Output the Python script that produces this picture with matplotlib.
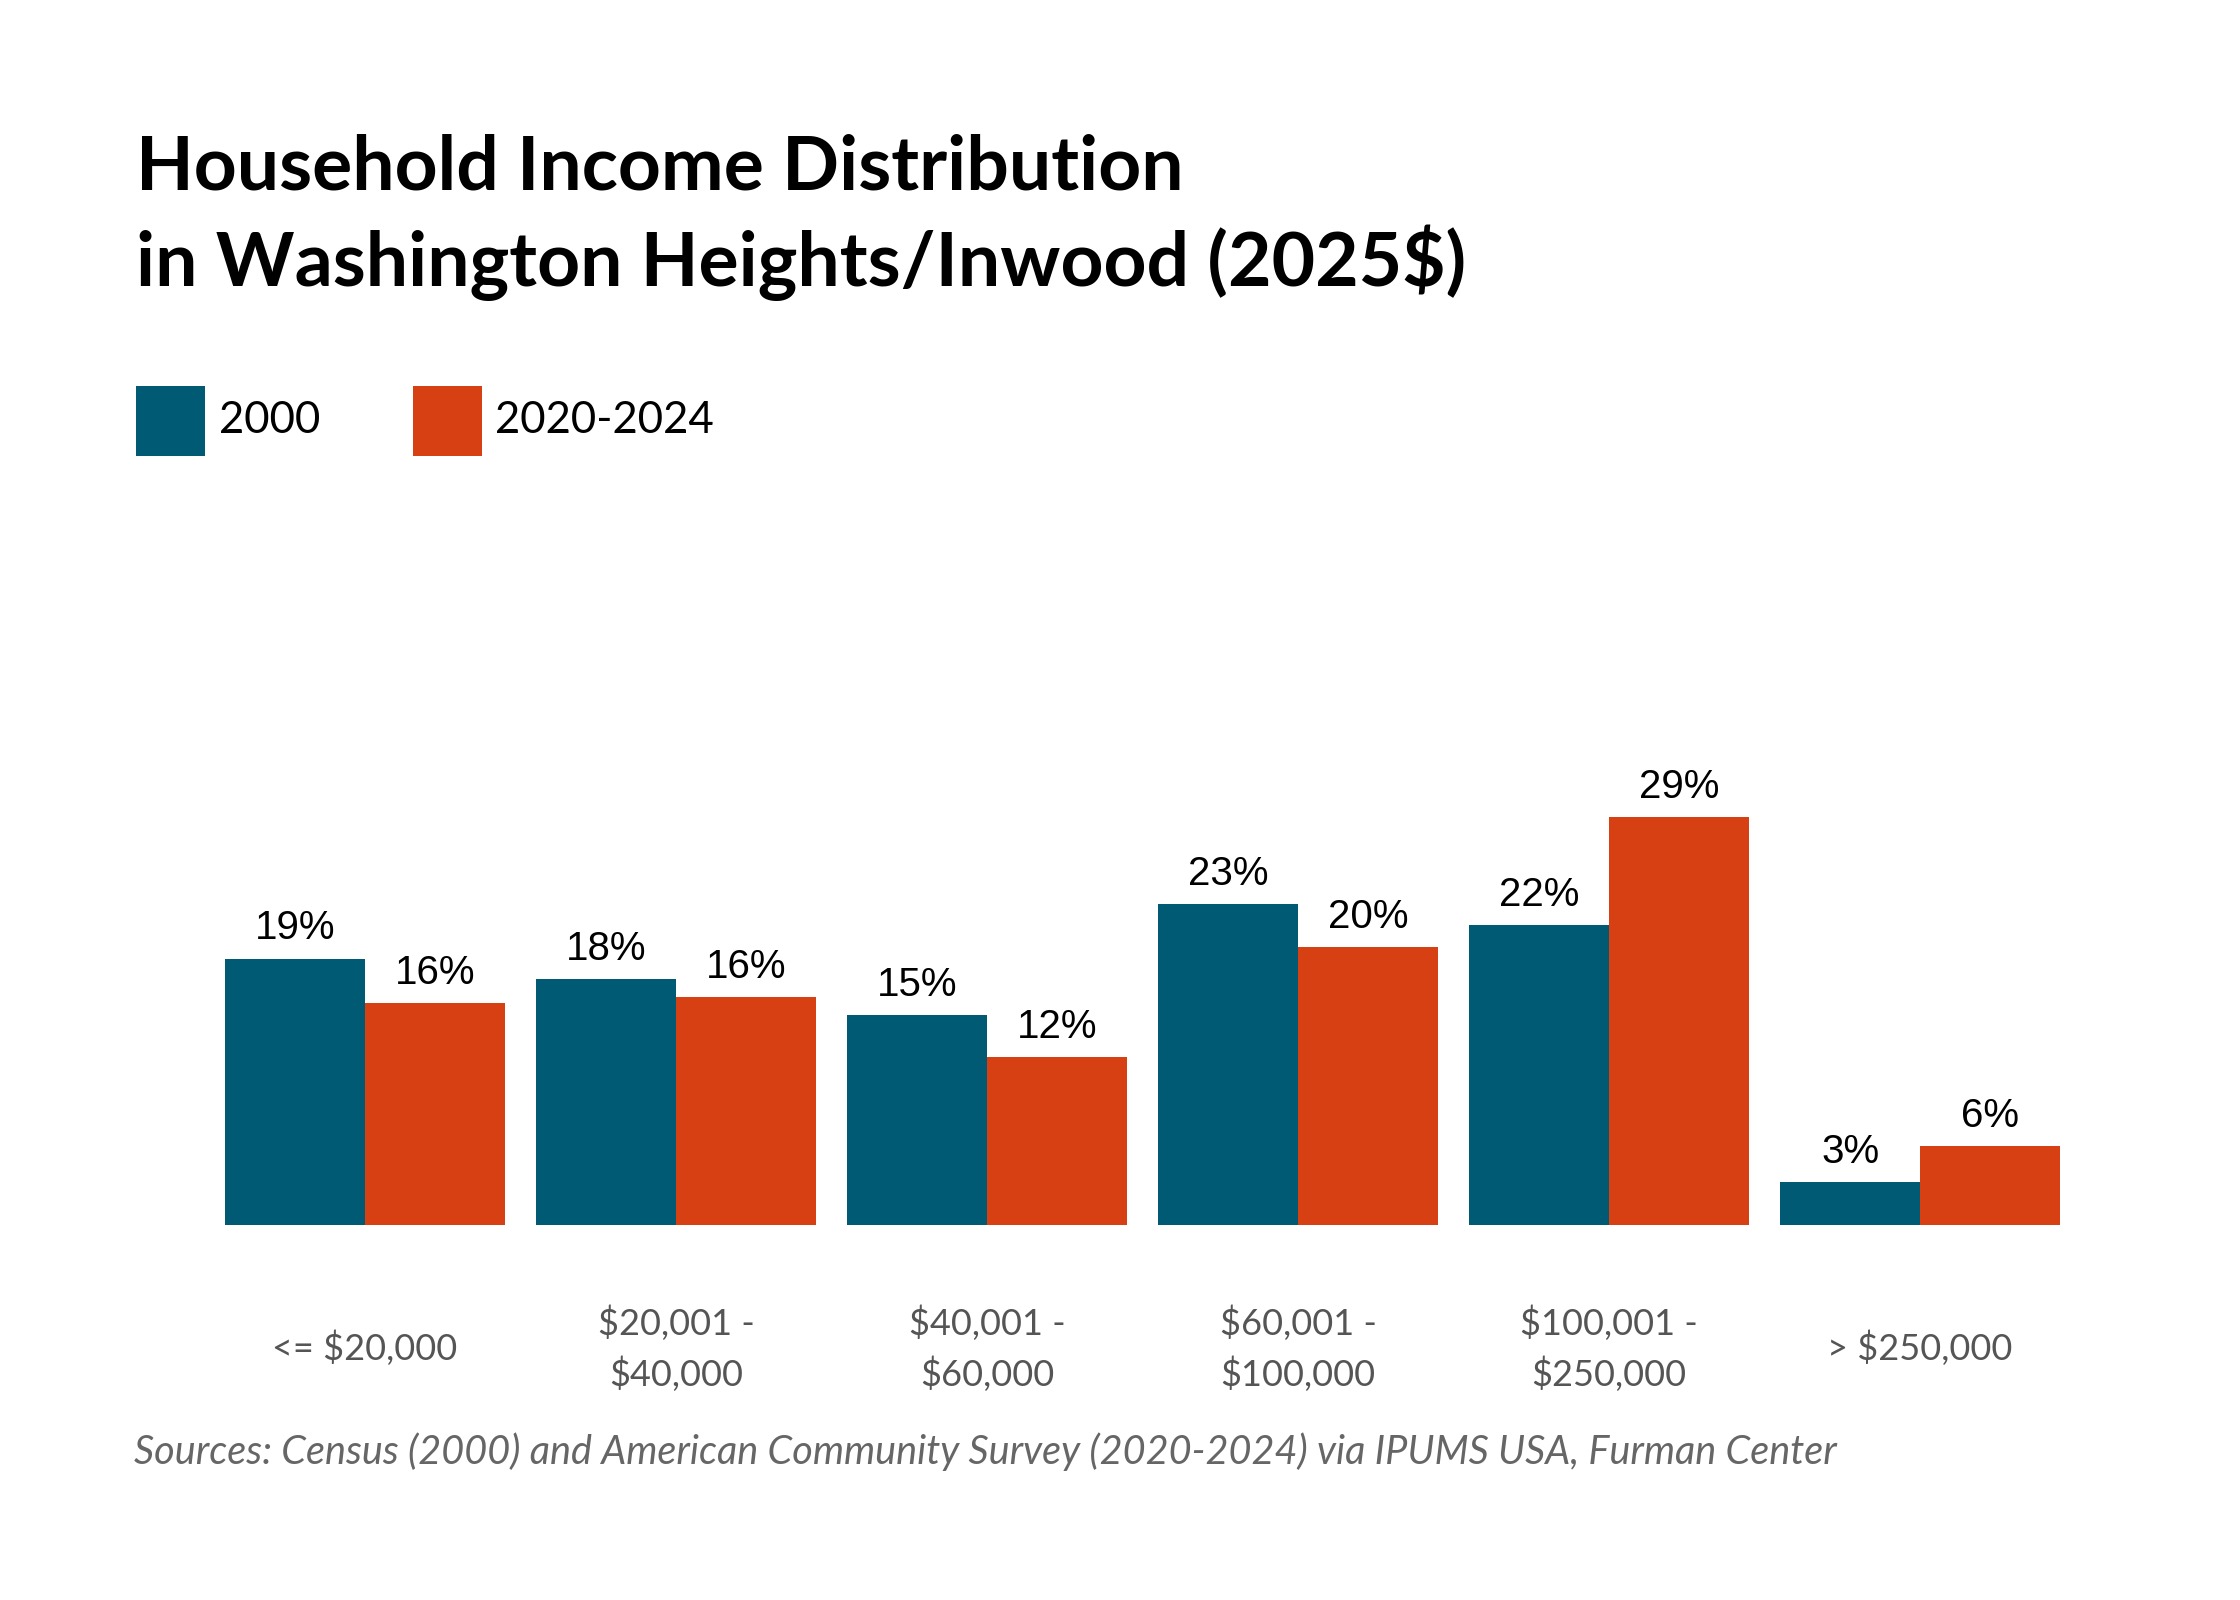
import matplotlib
matplotlib.use("Agg")
import matplotlib.pyplot as plt
import numpy as np

# data
categories = ["<= $20,000", "$20,001 -\n$40,000", "$40,001 -\n$60,000",
              "$60,001 -\n$100,000", "$100,001 -\n$250,000", "> $250,000"]
share_2000 = [19.2, 17.7, 15.1, 23.1, 21.6, 3.1]
share_2020 = [16.0, 16.4, 12.1, 20.0, 29.4, 5.7]
series_names = ["2000", "2020-2024"]

blue = "#005a74"
orange = "#d64013"

W, H = 2240, 1600
fig = plt.figure(figsize=(W / 100, H / 100), dpi=100)
fig.patch.set_facecolor("white")

# axes placed in pixel terms: group centres at x0 + step*i, baseline at y=base_px
x0, step = 365, 311
left_px, right_px, top_px, base_px = 180, 2120, 700, 1225
per_pct = 13.88
ax = fig.add_axes([left_px / W, (H - base_px) / H,
                   (right_px - left_px) / W, (base_px - top_px) / H])
ax.set_xlim((left_px - x0) / step, (right_px - x0) / step)
ax.set_ylim(0, (base_px - top_px) / per_pct)

x = np.arange(len(categories))
w = 0.45
b1 = ax.bar(x - w / 2, share_2000, w, color=blue, label=series_names[0])
b2 = ax.bar(x + w / 2, share_2020, w, color=orange, label=series_names[1])

for bars in (b1, b2):
    ax.bar_label(bars, labels=[f"{v:.0f}%" for v in bars.datavalues],
                 padding=8, fontsize=29, family="Liberation Sans", color="black")

for s in ax.spines.values():
    s.set_visible(False)
ax.set_yticks([])
ax.set_xticks(x)
ax.set_xticklabels(categories, family="Lato", fontsize=26, color="#555555",
                   linespacing=1.52, va="center")
ax.tick_params(axis="x", length=0, pad=89)

# title
fig.text(136 / W, 1 - 190 / H, "Household Income Distribution", family="Lato",
         weight="bold", fontsize=54, color="black", va="baseline")
fig.text(136 / W, 1 - 286 / H, "in Washington Heights/Inwood (2025$)", family="Lato",
         weight="bold", fontsize=54, color="black", va="baseline")

# legend
leg = fig.legend(handles=[b1, b2], labels=series_names, loc="upper left",
                 bbox_to_anchor=(136 / W, 1 - 386 / H), ncol=2, frameon=False,
                 fontsize=29, handlelength=1.72, handleheight=2.28,
                 handletextpad=0.33, columnspacing=2.3, borderpad=0, borderaxespad=0)
for t in leg.get_texts():
    t.set_family("Lato")
    t.set_fontsize(31.5)

# source note
fig.text(134 / W, 1 - 1452 / H,
         "Sources: Census (2000) and American Community Survey (2020-2024) via IPUMS USA, Furman Center",
         family="Lato", style="italic", fontsize=28.5, color="#666666", va="center")

fig.savefig("out.png", dpi=100)
